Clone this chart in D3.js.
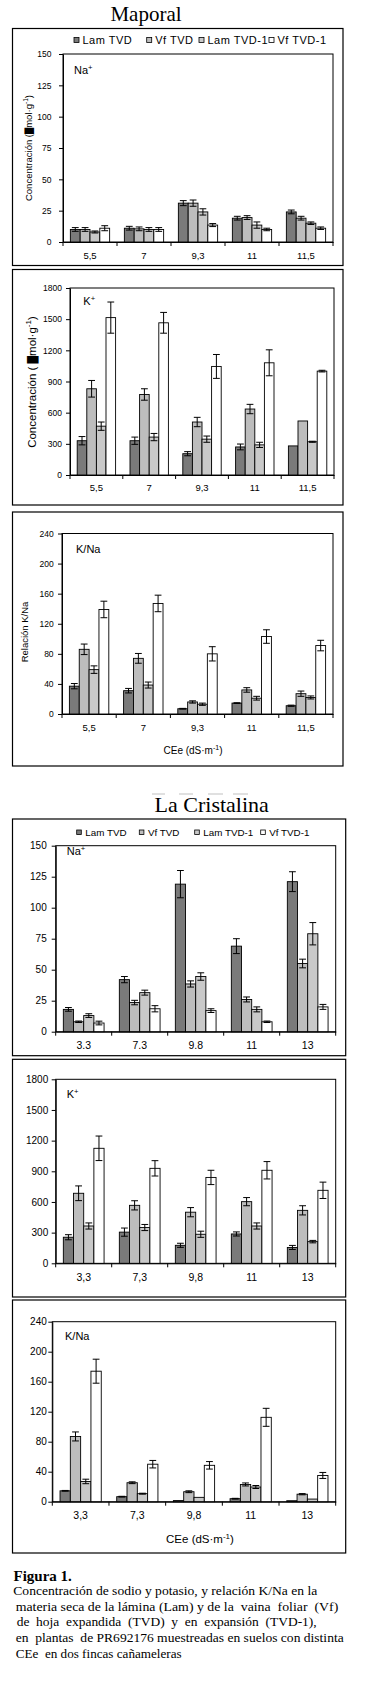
<!DOCTYPE html>
<html><head><meta charset="utf-8">
<script src="https://cdn.jsdelivr.net/npm/d3@7"></script>
<style>body{margin:0;background:#fff} svg{display:block}</style>
</head><body>
<script>
// ---------- DATA ----------
const series = ["Lam TVD", "Vf TVD", "Lam TVD-1", "Vf TVD-1"];
const seriesColors = ["#7a7a7a", "#bdbdbd", "#c9c9c9", "#ffffff"];

const maporalCats = ["5,5", "7", "9,3", "11", "11,5"];
const cristalinaNaCats = ["3.3", "7.3", "9.8", "11", "13"];
const cristalinaCats = ["3,3", "7,3", "9,8", "11", "13"];

const naTicks = [0, 25, 50, 75, 100, 125, 150];
const kTicks = [0, 300, 600, 900, 1200, 1500, 1800];
const ratioTicks = [0, 40, 80, 120, 160, 200, 240];

// Maporal – Na+
const mapNaLamTVD   = [10, 11, 31, 19, 24];
const mapNaVfTVD    = [10, 10.5, 31, 19.5, 19];
const mapNaLamTVD1  = [8, 10, 24, 13.5, 15];
const mapNaVfTVD1   = [11, 10, 13.5, 10, 11];
const mapNaErrLamTVD  = [1.5, 1.5, 2, 1.5, 1.5];
const mapNaErrVfTVD   = [1.5, 1.5, 2.5, 1.5, 1.5];
const mapNaErrLamTVD1 = [0.8, 1.5, 2.5, 2.5, 1];
const mapNaErrVfTVD1  = [2, 1.5, 1.2, 1, 1];

// Maporal – K+
const mapKLamTVD   = [330, 330, 205, 270, 280];
const mapKVfTVD    = [830, 775, 510, 635, 520];
const mapKLamTVD1  = [470, 365, 345, 290, 320];
const mapKVfTVD1   = [1515, 1465, 1045, 1080, 1000];
const mapKErrLamTVD  = [40, 35, 20, 28, 0];
const mapKErrVfTVD   = [80, 55, 45, 45, 0];
const mapKErrLamTVD1 = [40, 35, 30, 25, 5];
const mapKErrVfTVD1  = [150, 100, 115, 125, 8];

// Maporal – K/Na
const mapRLamTVD   = [37, 31, 7, 14.5, 11];
const mapRVfTVD    = [86, 74, 16, 32, 27];
const mapRLamTVD1  = [59, 38.5, 13, 21, 22];
const mapRVfTVD1   = [139, 147, 80, 103, 91];
const mapRErrLamTVD  = [3.5, 3, 0.5, 0.5, 0.8];
const mapRErrVfTVD   = [7, 6.5, 1.5, 3, 3.5];
const mapRErrLamTVD1 = [5, 4, 1.5, 2.5, 2];
const mapRErrVfTVD1  = [11, 11, 9.5, 9, 7];

// La Cristalina – Na+
const criNaLamTVD   = [18, 42, 119, 69, 121];
const criNaVfTVD    = [8, 23.5, 38.5, 26, 55];
const criNaLamTVD1  = [13, 31.5, 44.5, 18, 79];
const criNaVfTVD1   = [7, 18.5, 17, 8, 20];
const criNaErrLamTVD  = [1.5, 2.5, 11, 6, 8];
const criNaErrVfTVD   = [0.6, 1.8, 2.5, 2, 3.5];
const criNaErrLamTVD1 = [1.5, 2, 3, 2, 9];
const criNaErrVfTVD1  = [1.5, 2.5, 1.5, 0.6, 2];

// La Cristalina – K+
const criKLamTVD   = [255, 305, 176, 287, 155];
const criKVfTVD    = [685, 567, 500, 603, 518];
const criKLamTVD1  = [365, 350, 284, 365, 212];
const criKVfTVD1   = [1125, 929, 840, 910, 714];
const criKErrLamTVD  = [25, 40, 20, 20, 20];
const criKErrVfTVD   = [72, 45, 45, 40, 45];
const criKErrLamTVD1 = [30, 30, 30, 30, 12];
const criKErrVfTVD1  = [120, 75, 70, 85, 80];

// La Cristalina – K/Na
const criRLamTVD   = [14.5, 6.7, 1.5, 4, 1.3];
const criRVfTVD    = [87, 25.3, 13.3, 23, 10];
const criRLamTVD1  = [27, 10.7, 5.8, 19.6, 3.5];
const criRVfTVD1   = [174, 50, 48.5, 112.5, 35];
const criRErrLamTVD  = [0.5, 0.5, 0, 0.5, 0];
const criRErrVfTVD   = [6, 1.2, 1.2, 2, 0.8];
const criRErrLamTVD1 = [3, 0.6, 0, 2, 0];
const criRErrVfTVD1  = [16, 5, 5, 12, 4];

const captionTitle = "Figura 1.";
const captionLines = [
  "Concentración de sodio y potasio, y relación K/Na en la",
  "materia seca de la lámina (Lam) y de la  vaina  foliar  (Vf)",
  "de  hoja  expandida  (TVD)  y  en  expansión  (TVD-1),",
  "en  plantas  de PR692176 muestreadas en suelos con distinta",
  "CEe  en dos fincas cañameleras"
];

// ---------- DRAW ----------
const SANS = "'Liberation Sans', Arial, sans-serif";
const SERIF = "'Liberation Serif', 'Times New Roman', serif";
const fmt = d3.format("d");

const svg = d3.select("body").append("svg")
  .attr("width", 368).attr("height", 1699)
  .style("background", "#fff");

function supText(g, parts, fs) {
  parts.forEach(p => {
    const ts = g.append("tspan").text(p.t);
    if (p.sup) ts.attr("font-size", fs * 0.7).attr("dy", -fs * 0.38);
    if (p.after) ts.attr("dy", fs * 0.38);
    if (p.block) ts.attr("font-family", "'DejaVu Sans', sans-serif").attr("font-size", fs * 0.85);
  });
}

function drawPanel(o) {
  const g = svg.append("g");
  const [bx0, by0, bx1, by1] = o.box;
  g.append("rect").attr("x", bx0).attr("y", by0).attr("width", bx1 - bx0).attr("height", by1 - by0)
    .attr("fill", "none").attr("stroke", "#000").attr("stroke-width", 1.2);

  const [l, t, r, b] = o.plot;
  const x0 = d3.scaleBand().domain(o.cats).range([l, r]).paddingInner(0).paddingOuter(0);
  const x1 = d3.scaleBand().domain(series).range([0, x0.bandwidth()]).paddingInner(0).paddingOuter(0.75);
  const y = d3.scaleLinear().domain([0, o.ticks[o.ticks.length - 1]]).range([b, t]);

  g.append("rect").attr("x", l).attr("y", t).attr("width", r - l).attr("height", b - t)
    .attr("fill", "none").attr("stroke", "#000").attr("stroke-width", 1);

  series.forEach((s, i) => {
    const vals = o.values[i];
    o.cats.forEach((c, j) => {
      const v = vals[j];
      g.append("rect").attr("x", x0(c) + x1(s)).attr("y", y(v)).attr("width", x1.bandwidth())
        .attr("height", y(0) - y(v)).attr("fill", seriesColors[i])
        .attr("stroke", "#000").attr("stroke-width", 0.9);
    });
  });
  series.forEach((s, i) => {
    const vals = o.values[i], errs = o.errors[i];
    o.cats.forEach((c, j) => {
      const v = vals[j], e = errs[j];
      if (!e) return;
      const cx = x0(c) + x1(s) + x1.bandwidth() / 2;
      const cw = 3.4;
      g.append("line").attr("x1", cx).attr("x2", cx).attr("y1", y(v - e)).attr("y2", y(v + e))
        .attr("stroke", "#000").attr("stroke-width", 1);
      [v - e, v + e].forEach(yy => {
        g.append("line").attr("x1", cx - cw).attr("x2", cx + cw).attr("y1", y(yy)).attr("y2", y(yy))
          .attr("stroke", "#000").attr("stroke-width", 1);
      });
    });
  });

  const ya = g.append("g").attr("transform", `translate(${l},0)`)
    .call(d3.axisLeft(y).tickValues(o.ticks).tickFormat(fmt).tickSize(4).tickPadding(o.yPad).tickSizeOuter(0));
  ya.selectAll("text").attr("font-size", o.yFs).attr("font-family", SANS).attr("fill", "#000");
  ya.selectAll("line,path").attr("stroke", "#000");

  const xa = g.append("g").attr("transform", `translate(0,${b})`)
    .call(d3.axisBottom(x0).tickSize(0).tickPadding(o.xPad).tickSizeOuter(0));
  xa.selectAll("text").attr("font-size", o.xFs).attr("font-family", SANS).attr("fill", "#000");
  xa.select("path").attr("stroke", "#000");
  const bounds = o.cats.map(c => x0(c)).concat([x0(o.cats[o.cats.length - 1]) + x0.bandwidth()]);
  bounds.forEach(bx => {
    g.append("line").attr("x1", bx).attr("x2", bx).attr("y1", b).attr("y2", b + 4)
      .attr("stroke", "#000").attr("stroke-width", 1);
  });

  const ion = g.append("text").attr("x", o.ion.x).attr("y", o.ion.y)
    .attr("font-family", SANS).attr("font-size", o.ion.fs).attr("fill", "#000");
  if (o.ion.sup) supText(ion, [{ t: o.ion.t }, { t: o.ion.sup, sup: true }], o.ion.fs);
  else ion.text(o.ion.t);

  if (o.yTitle) {
    const yt = g.append("text")
      .attr("transform", `translate(${o.yTitle.x},${o.yTitle.y}) rotate(-90)`)
      .attr("text-anchor", "middle").attr("dy", "0.35em")
      .attr("font-family", SANS).attr("font-size", o.yTitle.fs).attr("fill", "#000");
    supText(yt, o.yTitle.parts, o.yTitle.fs);
  }
  if (o.xTitle) {
    const xt = g.append("text").attr("x", o.xTitle.x).attr("y", o.xTitle.y)
      .attr("text-anchor", "middle").attr("font-family", SANS)
      .attr("font-size", o.xTitle.fs).attr("fill", "#000");
    supText(xt, [{ t: "CEe (dS·m" }, { t: "-1", sup: true }, { t: ")", after: true }], o.xTitle.fs);
  }
  if (o.legend) {
    const L = o.legend;
    series.forEach((s, i) => {
      g.append("rect").attr("x", L.xs[i]).attr("y", L.y - L.sq / 2).attr("width", L.sq).attr("height", L.sq)
        .attr("fill", seriesColors[i]).attr("stroke", "#000").attr("stroke-width", 0.8);
      g.append("text").attr("x", L.xs[i] + L.sq + L.gap).attr("y", L.y).attr("dy", "0.36em")
        .attr("font-family", SANS).attr("font-size", L.fs).attr("letter-spacing", L.ls)
        .attr("fill", "#000").text(s);
    });
  }
}

svg.append("text").attr("x", 146).attr("y", 20.5).attr("text-anchor", "middle")
  .attr("font-family", SERIF).attr("font-size", 21).attr("fill", "#000").text("Maporal");
svg.append("text").attr("x", 211.7).attr("y", 811.7).attr("text-anchor", "middle")
  .attr("font-family", SERIF).attr("font-size", 22).attr("fill", "#000").text("La Cristalina");
[[152, 165], [179, 193], [208, 223], [233, 248]].forEach(([a, c]) => {
  svg.append("line").attr("x1", a).attr("x2", c).attr("y1", 794).attr("y2", 794)
    .attr("stroke", "#d6d6d6").attr("stroke-width", 1.5);
});

const concParts1 = [{ t: "Concentración (" }, { t: "█", block: true }, { t: "mol·g" }, { t: "-1", sup: true }, { t: ")", after: true }];
const concParts2 = [{ t: "Concentración ( " }, { t: "█", block: true }, { t: "mol·g" }, { t: "-1", sup: true }, { t: ")", after: true }];

drawPanel({
  box: [12.5, 28.5, 343, 265.5], plot: [63, 54, 333, 242],
  cats: maporalCats, ticks: naTicks,
  values: [mapNaLamTVD, mapNaVfTVD, mapNaLamTVD1, mapNaVfTVD1],
  errors: [mapNaErrLamTVD, mapNaErrVfTVD, mapNaErrLamTVD1, mapNaErrVfTVD1],
  yPad: 7.5, yFs: 8.5, xPad: 10, xFs: 9.5,
  ion: { t: "Na", sup: "+", x: 74, y: 74, fs: 11 },
  yTitle: { x: 28.5, y: 148, fs: 9.5, parts: concParts1 },
  legend: { y: 40, xs: [74, 146.7, 199, 269], sq: 5, gap: 3.5, fs: 11, ls: 0.5 }
});
drawPanel({
  box: [12.5, 269.5, 343, 505], plot: [70, 288, 334, 475],
  cats: maporalCats, ticks: kTicks,
  values: [mapKLamTVD, mapKVfTVD, mapKLamTVD1, mapKVfTVD1],
  errors: [mapKErrLamTVD, mapKErrVfTVD, mapKErrLamTVD1, mapKErrVfTVD1],
  yPad: 4, yFs: 8.5, xPad: 9, xFs: 9.5,
  ion: { t: "K", sup: "+", x: 83.3, y: 305, fs: 11 },
  yTitle: { x: 31.7, y: 382, fs: 11.5, parts: concParts2 }
});
drawPanel({
  box: [12.5, 512, 343, 766], plot: [62, 533.5, 333, 714],
  cats: maporalCats, ticks: ratioTicks,
  values: [mapRLamTVD, mapRVfTVD, mapRLamTVD1, mapRVfTVD1],
  errors: [mapRErrLamTVD, mapRErrVfTVD, mapRErrLamTVD1, mapRErrVfTVD1],
  yPad: 4.4, yFs: 8.5, xPad: 10, xFs: 9.5,
  ion: { t: "K/Na", x: 76, y: 553, fs: 11 },
  yTitle: { x: 25, y: 632, fs: 9.5, parts: [{ t: "Relación K/Na" }] },
  xTitle: { x: 193, y: 754, fs: 10 }
});
drawPanel({
  box: [12.5, 819, 345.7, 1055.7], plot: [55.7, 845.7, 335.7, 1031.7],
  cats: cristalinaNaCats, ticks: naTicks,
  values: [criNaLamTVD, criNaVfTVD, criNaLamTVD1, criNaVfTVD1],
  errors: [criNaErrLamTVD, criNaErrVfTVD, criNaErrLamTVD1, criNaErrVfTVD1],
  yPad: 5, yFs: 10, xPad: 10, xFs: 10.5,
  ion: { t: "Na", sup: "+", x: 66.7, y: 855, fs: 11 },
  legend: { y: 832.3, xs: [76.7, 139.3, 194.7, 260.7], sq: 4.6, gap: 4, fs: 9.8, ls: 0 }
});
drawPanel({
  box: [12.5, 1059.3, 345.7, 1297], plot: [55.7, 1079.3, 335.7, 1263.3],
  cats: cristalinaCats, ticks: kTicks,
  values: [criKLamTVD, criKVfTVD, criKLamTVD1, criKVfTVD1],
  errors: [criKErrLamTVD, criKErrVfTVD, criKErrLamTVD1, criKErrVfTVD1],
  yPad: 3.5, yFs: 10, xPad: 10, xFs: 10.5,
  ion: { t: "K", sup: "+", x: 66.7, y: 1098, fs: 11 }
});
drawPanel({
  box: [12.5, 1300, 345.7, 1553], plot: [52.3, 1321.7, 335.7, 1501.7],
  cats: cristalinaCats, ticks: ratioTicks,
  values: [criRLamTVD, criRVfTVD, criRLamTVD1, criRVfTVD1],
  errors: [criRErrLamTVD, criRErrVfTVD, criRErrLamTVD1, criRErrVfTVD1],
  yPad: 1.5, yFs: 10, xPad: 10, xFs: 10.5,
  ion: { t: "K/Na", x: 65, y: 1340, fs: 11 },
  xTitle: { x: 200, y: 1543, fs: 11.5 }
});

svg.append("text").attr("x", 13.5).attr("y", 1581)
  .attr("font-family", SERIF).attr("font-weight", "bold").attr("font-size", 15).attr("fill", "#000")
  .text(captionTitle);
const capX = [13.3, 15.7, 16.7, 15.7, 15.7];
const capY = [1595, 1610.5, 1626, 1642, 1657.5];
const capW = [304, 322.6, 300, 328, 166];
captionLines.forEach((s, i) => {
  svg.append("text").attr("x", capX[i]).attr("y", capY[i])
    .attr("font-family", SERIF).attr("font-size", 13.5).attr("fill", "#000")
    .attr("textLength", capW[i]).attr("lengthAdjust", "spacingAndGlyphs")
    .style("white-space", "pre")
    .text(s);
});
</script>
</body></html>
